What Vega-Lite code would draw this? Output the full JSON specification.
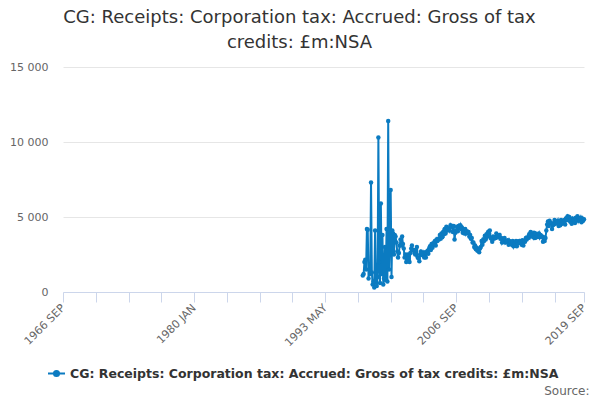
{
  "$schema": "https://vega.github.io/schema/vega-lite/v6.json",
  "width": 521,
  "height": 225,
  "autosize": "none",
  "padding": {"left": 63, "top": 67, "right": 16, "bottom": 108},
  "title": {
    "text": ["CG: Receipts: Corporation tax: Accrued: Gross of tax", "credits: £m:NSA"],
    "font": "DejaVu Sans",
    "fontSize": 18,
    "fontWeight": "normal",
    "color": "#333333",
    "lineHeight": 25,
    "anchor": "middle",
    "dx": -24,
    "offset": 9
  },
  "data": {
    "values": [
      {"date": "1997-03-01", "value": 1100}, {"date": "1997-04-01", "value": 1200}, {"date": "1997-05-01", "value": 2000},
      {"date": "1997-06-01", "value": 2150}, {"date": "1997-07-01", "value": 1500}, {"date": "1997-08-01", "value": 4200},
      {"date": "1997-09-01", "value": 4150}, {"date": "1997-10-01", "value": 900}, {"date": "1997-11-01", "value": 1500},
      {"date": "1997-12-01", "value": 1200}, {"date": "1998-01-01", "value": 7300}, {"date": "1998-02-01", "value": 1300},
      {"date": "1998-03-01", "value": 500}, {"date": "1998-04-01", "value": 700}, {"date": "1998-05-01", "value": 300},
      {"date": "1998-06-01", "value": 4100}, {"date": "1998-07-01", "value": 800}, {"date": "1998-08-01", "value": 400},
      {"date": "1998-09-01", "value": 1000}, {"date": "1998-10-01", "value": 10300}, {"date": "1998-11-01", "value": 2000},
      {"date": "1998-12-01", "value": 600}, {"date": "1999-01-01", "value": 5900}, {"date": "1999-02-01", "value": 1200},
      {"date": "1999-03-01", "value": 3800}, {"date": "1999-04-01", "value": 500}, {"date": "1999-05-01", "value": 900},
      {"date": "1999-06-01", "value": 3000}, {"date": "1999-07-01", "value": 800}, {"date": "1999-08-01", "value": 4200},
      {"date": "1999-09-01", "value": 700}, {"date": "1999-10-01", "value": 11400}, {"date": "1999-11-01", "value": 1500},
      {"date": "1999-12-01", "value": 4000}, {"date": "2000-01-01", "value": 6800}, {"date": "2000-02-01", "value": 1000},
      {"date": "2000-03-01", "value": 4100}, {"date": "2000-04-01", "value": 3900}, {"date": "2000-05-01", "value": 2500},
      {"date": "2000-06-01", "value": 3800}, {"date": "2000-07-01", "value": 3700}, {"date": "2000-08-01", "value": 3300},
      {"date": "2000-09-01", "value": 2700}, {"date": "2000-10-01", "value": 2300}, {"date": "2000-11-01", "value": 2600},
      {"date": "2000-12-01", "value": 3100}, {"date": "2001-01-01", "value": 3500}, {"date": "2001-02-01", "value": 3100},
      {"date": "2001-03-01", "value": 3700}, {"date": "2001-04-01", "value": 3200}, {"date": "2001-05-01", "value": 2900},
      {"date": "2001-06-01", "value": 2300}, {"date": "2001-07-01", "value": 2500}, {"date": "2001-08-01", "value": 2000},
      {"date": "2001-09-01", "value": 2300}, {"date": "2001-10-01", "value": 2500}, {"date": "2001-11-01", "value": 2200},
      {"date": "2001-12-01", "value": 2000}, {"date": "2002-01-01", "value": 2600}, {"date": "2002-02-01", "value": 2900},
      {"date": "2002-03-01", "value": 3100}, {"date": "2002-04-01", "value": 2800}, {"date": "2002-05-01", "value": 2800},
      {"date": "2002-06-01", "value": 2600}, {"date": "2002-07-01", "value": 2500}, {"date": "2002-08-01", "value": 2800},
      {"date": "2002-09-01", "value": 3000}, {"date": "2002-10-01", "value": 2300}, {"date": "2002-11-01", "value": 2250},
      {"date": "2002-12-01", "value": 2050}, {"date": "2003-01-01", "value": 2500}, {"date": "2003-02-01", "value": 2700},
      {"date": "2003-03-01", "value": 2600}, {"date": "2003-04-01", "value": 2450}, {"date": "2003-05-01", "value": 2600},
      {"date": "2003-06-01", "value": 2300}, {"date": "2003-07-01", "value": 2650}, {"date": "2003-08-01", "value": 2300},
      {"date": "2003-09-01", "value": 2600}, {"date": "2003-10-01", "value": 2750}, {"date": "2003-11-01", "value": 2550},
      {"date": "2003-12-01", "value": 2900}, {"date": "2004-01-01", "value": 3050}, {"date": "2004-02-01", "value": 2800},
      {"date": "2004-03-01", "value": 3200}, {"date": "2004-04-01", "value": 2950}, {"date": "2004-05-01", "value": 3250},
      {"date": "2004-06-01", "value": 3150}, {"date": "2004-07-01", "value": 3400}, {"date": "2004-08-01", "value": 3100},
      {"date": "2004-09-01", "value": 3500}, {"date": "2004-10-01", "value": 3400}, {"date": "2004-11-01", "value": 3550},
      {"date": "2004-12-01", "value": 3500}, {"date": "2005-01-01", "value": 3800}, {"date": "2005-02-01", "value": 3550},
      {"date": "2005-03-01", "value": 3900}, {"date": "2005-04-01", "value": 3650}, {"date": "2005-05-01", "value": 4000},
      {"date": "2005-06-01", "value": 3850}, {"date": "2005-07-01", "value": 4200}, {"date": "2005-08-01", "value": 3900},
      {"date": "2005-09-01", "value": 4350}, {"date": "2005-10-01", "value": 4100}, {"date": "2005-11-01", "value": 4200},
      {"date": "2005-12-01", "value": 4250}, {"date": "2006-01-01", "value": 4100}, {"date": "2006-02-01", "value": 4450},
      {"date": "2006-03-01", "value": 4350}, {"date": "2006-04-01", "value": 4400}, {"date": "2006-05-01", "value": 4000},
      {"date": "2006-06-01", "value": 4400}, {"date": "2006-07-01", "value": 3500}, {"date": "2006-08-01", "value": 3950},
      {"date": "2006-09-01", "value": 4100}, {"date": "2006-10-01", "value": 4350}, {"date": "2006-11-01", "value": 4050},
      {"date": "2006-12-01", "value": 4400}, {"date": "2007-01-01", "value": 4300}, {"date": "2007-02-01", "value": 4450},
      {"date": "2007-03-01", "value": 4200}, {"date": "2007-04-01", "value": 4300}, {"date": "2007-05-01", "value": 3950},
      {"date": "2007-06-01", "value": 4200}, {"date": "2007-07-01", "value": 3900}, {"date": "2007-08-01", "value": 4200},
      {"date": "2007-09-01", "value": 3900}, {"date": "2007-10-01", "value": 4050}, {"date": "2007-11-01", "value": 3950},
      {"date": "2007-12-01", "value": 4000}, {"date": "2008-01-01", "value": 3700}, {"date": "2008-02-01", "value": 3800},
      {"date": "2008-03-01", "value": 3550}, {"date": "2008-04-01", "value": 3600}, {"date": "2008-05-01", "value": 3300},
      {"date": "2008-06-01", "value": 3300}, {"date": "2008-07-01", "value": 3000}, {"date": "2008-08-01", "value": 3100},
      {"date": "2008-09-01", "value": 2850}, {"date": "2008-10-01", "value": 2950}, {"date": "2008-11-01", "value": 2750},
      {"date": "2008-12-01", "value": 2850}, {"date": "2009-01-01", "value": 2650}, {"date": "2009-02-01", "value": 2900},
      {"date": "2009-03-01", "value": 3000}, {"date": "2009-04-01", "value": 3400}, {"date": "2009-05-01", "value": 3150},
      {"date": "2009-06-01", "value": 3500}, {"date": "2009-07-01", "value": 3400}, {"date": "2009-08-01", "value": 3750},
      {"date": "2009-09-01", "value": 3500}, {"date": "2009-10-01", "value": 3850}, {"date": "2009-11-01", "value": 3700},
      {"date": "2009-12-01", "value": 4000}, {"date": "2010-01-01", "value": 3900}, {"date": "2010-02-01", "value": 4100},
      {"date": "2010-03-01", "value": 3600}, {"date": "2010-04-01", "value": 3550}, {"date": "2010-05-01", "value": 3350},
      {"date": "2010-06-01", "value": 3700}, {"date": "2010-07-01", "value": 3550}, {"date": "2010-08-01", "value": 3650},
      {"date": "2010-09-01", "value": 3600}, {"date": "2010-10-01", "value": 3900}, {"date": "2010-11-01", "value": 3650},
      {"date": "2010-12-01", "value": 3750}, {"date": "2011-01-01", "value": 3700}, {"date": "2011-02-01", "value": 3800},
      {"date": "2011-03-01", "value": 3550}, {"date": "2011-04-01", "value": 3600}, {"date": "2011-05-01", "value": 3300},
      {"date": "2011-06-01", "value": 3450}, {"date": "2011-07-01", "value": 3350}, {"date": "2011-08-01", "value": 3600},
      {"date": "2011-09-01", "value": 3300}, {"date": "2011-10-01", "value": 3400}, {"date": "2011-11-01", "value": 3350},
      {"date": "2011-12-01", "value": 3450}, {"date": "2012-01-01", "value": 3150}, {"date": "2012-02-01", "value": 3400},
      {"date": "2012-03-01", "value": 3250}, {"date": "2012-04-01", "value": 3300}, {"date": "2012-05-01", "value": 3150},
      {"date": "2012-06-01", "value": 3400}, {"date": "2012-07-01", "value": 3050}, {"date": "2012-08-01", "value": 3200},
      {"date": "2012-09-01", "value": 3100}, {"date": "2012-10-01", "value": 3400}, {"date": "2012-11-01", "value": 3050},
      {"date": "2012-12-01", "value": 3350}, {"date": "2013-01-01", "value": 3250}, {"date": "2013-02-01", "value": 3400},
      {"date": "2013-03-01", "value": 3300}, {"date": "2013-04-01", "value": 3400}, {"date": "2013-05-01", "value": 3150},
      {"date": "2013-06-01", "value": 3450}, {"date": "2013-07-01", "value": 3100}, {"date": "2013-08-01", "value": 3400},
      {"date": "2013-09-01", "value": 3350}, {"date": "2013-10-01", "value": 3600}, {"date": "2013-11-01", "value": 3500},
      {"date": "2013-12-01", "value": 3650}, {"date": "2014-01-01", "value": 3600}, {"date": "2014-02-01", "value": 3850},
      {"date": "2014-03-01", "value": 3700}, {"date": "2014-04-01", "value": 4000}, {"date": "2014-05-01", "value": 3750},
      {"date": "2014-06-01", "value": 3800}, {"date": "2014-07-01", "value": 3650}, {"date": "2014-08-01", "value": 3950},
      {"date": "2014-09-01", "value": 3600}, {"date": "2014-10-01", "value": 3900}, {"date": "2014-11-01", "value": 3650},
      {"date": "2014-12-01", "value": 3750}, {"date": "2015-01-01", "value": 3750}, {"date": "2015-02-01", "value": 3900},
      {"date": "2015-03-01", "value": 3650}, {"date": "2015-04-01", "value": 3800}, {"date": "2015-05-01", "value": 3700},
      {"date": "2015-06-01", "value": 3700}, {"date": "2015-07-01", "value": 3350}, {"date": "2015-08-01", "value": 3650},
      {"date": "2015-09-01", "value": 3400}, {"date": "2015-10-01", "value": 3600}, {"date": "2015-11-01", "value": 4100},
      {"date": "2015-12-01", "value": 4500}, {"date": "2016-01-01", "value": 4700}, {"date": "2016-02-01", "value": 4400},
      {"date": "2016-03-01", "value": 4750}, {"date": "2016-04-01", "value": 4600}, {"date": "2016-05-01", "value": 4600},
      {"date": "2016-06-01", "value": 4200}, {"date": "2016-07-01", "value": 4450}, {"date": "2016-08-01", "value": 4500},
      {"date": "2016-09-01", "value": 4800}, {"date": "2016-10-01", "value": 4550}, {"date": "2016-11-01", "value": 4650},
      {"date": "2016-12-01", "value": 4600}, {"date": "2017-01-01", "value": 4750}, {"date": "2017-02-01", "value": 4400},
      {"date": "2017-03-01", "value": 4700}, {"date": "2017-04-01", "value": 4450}, {"date": "2017-05-01", "value": 4800},
      {"date": "2017-06-01", "value": 4550}, {"date": "2017-07-01", "value": 4600}, {"date": "2017-08-01", "value": 4650},
      {"date": "2017-09-01", "value": 4800}, {"date": "2017-10-01", "value": 4500}, {"date": "2017-11-01", "value": 4900},
      {"date": "2017-12-01", "value": 4800}, {"date": "2018-01-01", "value": 5050}, {"date": "2018-02-01", "value": 4950},
      {"date": "2018-03-01", "value": 5000}, {"date": "2018-04-01", "value": 4700}, {"date": "2018-05-01", "value": 4800},
      {"date": "2018-06-01", "value": 4550}, {"date": "2018-07-01", "value": 4900}, {"date": "2018-08-01", "value": 4800},
      {"date": "2018-09-01", "value": 4850}, {"date": "2018-10-01", "value": 4600}, {"date": "2018-11-01", "value": 4950},
      {"date": "2018-12-01", "value": 4800}, {"date": "2019-01-01", "value": 5050}, {"date": "2019-02-01", "value": 4750},
      {"date": "2019-03-01", "value": 4900}, {"date": "2019-04-01", "value": 4800}, {"date": "2019-05-01", "value": 4950},
      {"date": "2019-06-01", "value": 4650}, {"date": "2019-07-01", "value": 4900}, {"date": "2019-08-01", "value": 4750},
      {"date": "2019-09-01", "value": 4850}
    ]
  },
  "mark": {
    "type": "line",
    "strokeWidth": 2,
    "point": {"filled": true, "size": 20}
  },
  "encoding": {
    "x": {
      "field": "date",
      "type": "temporal",
      "scale": {
        "type": "utc",
        "domain": [
          {"year": 1966, "month": 9, "date": 1, "utc": true},
          {"year": 2019, "month": 9, "date": 1, "utc": true}
        ]
      },
      "axis": {
        "values": [
          {"year": 1966, "month": 9, "date": 1, "utc": true},
          {"year": 1970, "month": 1, "date": 1, "utc": true},
          {"year": 1973, "month": 5, "date": 1, "utc": true},
          {"year": 1976, "month": 9, "date": 1, "utc": true},
          {"year": 1980, "month": 1, "date": 1, "utc": true},
          {"year": 1983, "month": 5, "date": 1, "utc": true},
          {"year": 1986, "month": 9, "date": 1, "utc": true},
          {"year": 1990, "month": 1, "date": 1, "utc": true},
          {"year": 1993, "month": 5, "date": 1, "utc": true},
          {"year": 1996, "month": 9, "date": 1, "utc": true},
          {"year": 2000, "month": 1, "date": 1, "utc": true},
          {"year": 2003, "month": 5, "date": 1, "utc": true},
          {"year": 2006, "month": 9, "date": 1, "utc": true},
          {"year": 2010, "month": 1, "date": 1, "utc": true},
          {"year": 2013, "month": 5, "date": 1, "utc": true},
          {"year": 2016, "month": 9, "date": 1, "utc": true},
          {"year": 2019, "month": 9, "date": 1, "utc": true}
        ],
        "labelExpr": "indexof(['1966 SEP','1980 JAN','1993 MAY','2006 SEP','2019 SEP'], upper(utcFormat(datum.value, '%Y %b'))) >= 0 ? upper(utcFormat(datum.value, '%Y %b')) : ''",
        "labelAngle": -45,
        "labelAlign": "right",
        "labelBaseline": "middle",
        "labelPadding": 4,
        "labelFont": "DejaVu Sans",
        "labelFontSize": 11,
        "labelColor": "#666666",
        "labelOverlap": false,
        "labelBound": false,
        "labelFlush": false,
        "grid": false,
        "domainColor": "#ccd6eb",
        "tickColor": "#ccd6eb",
        "tickSize": 10,
        "title": "Source:",
        "titleFont": "DejaVu Sans",
        "titleFontSize": 12,
        "titleFontWeight": "normal",
        "titleColor": "#666666",
        "titleAlign": "right",
        "titleAnchor": null,
        "titleBaseline": "alphabetic",
        "titleX": 526,
        "titleY": 102
      }
    },
    "y": {
      "field": "value",
      "type": "quantitative",
      "scale": {"domain": [0, 15000], "nice": false},
      "axis": {
        "values": [0, 5000, 10000, 15000],
        "labelExpr": "replace(format(datum.value, ','), ',', ' ')",
        "labelFont": "DejaVu Sans",
        "labelFontSize": 11,
        "labelColor": "#666666",
        "labelPadding": 15,
        "domain": false,
        "ticks": false,
        "gridColor": "#e6e6e6",
        "title": null
      }
    },
    "color": {
      "datum": "CG: Receipts: Corporation tax: Accrued: Gross of tax credits: £m:NSA",
      "scale": {"range": ["#0b7bc1"]},
      "legend": {
        "title": null,
        "orient": "none",
        "legendX": -16,
        "legendY": 297,
        "symbolType": "M-1,0H1M-0.3,0A0.3,0.3,0,1,1,0.3,0A0.3,0.3,0,1,1,-0.3,0Z",
        "symbolSize": 289,
        "symbolStrokeWidth": 2,
        "symbolFillColor": "#0b7bc1",
        "labelFont": "DejaVu Sans",
        "labelFontSize": 12.5,
        "labelFontWeight": "bold",
        "labelColor": "#333333",
        "labelLimit": 0,
        "labelOffset": 4
      }
    }
  },
  "config": {
    "view": {"stroke": null},
    "background": "#ffffff"
  }
}
